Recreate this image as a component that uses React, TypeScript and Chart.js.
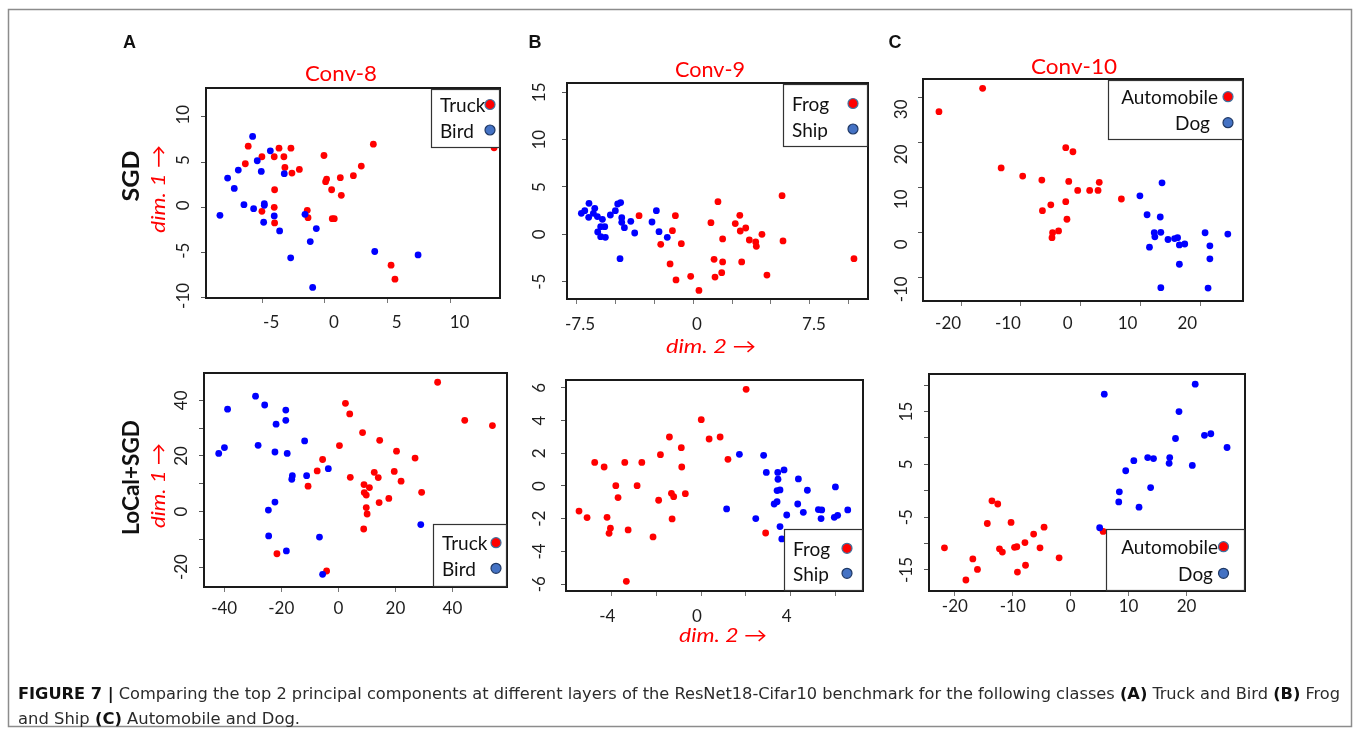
import React, { useEffect, useRef } from "react";
import { Chart, registerables } from "chart.js";

Chart.register(...registerables);

type Pt = [number, number];

// ---------------- data ----------------
const layerTitles = ["Conv-8", "Conv-9", "Conv-10"];
const optimizerRows = ["SGD", "LoCal+SGD"];
const panelLetters = ["A", "B", "C"];
const pairA = ["Truck", "Bird"];
const pairB = ["Frog", "Ship"];
const pairC = ["Automobile", "Dog"];

const sgdTruck: Pt[] = [[-6.11, 6.75], [-6.34, 4.81], [-5.02, 5.58], [-4.04, 5.58], [-3.66, 6.53], [-2.71, 6.53], [-3.27, 5.58], [-3.19, 4.4], [-2.63, 3.78], [-2.04, 4.18], [-4.01, 1.94], [-4.04, 0], [-5.02, -0.44], [-4.01, -1.72], [-1.41, -0.33], [-1.35, -1.14], [-0.08, 5.72], [0.13, 3.12], [0.05, 2.83], [0.53, 1.94], [1.22, 3.27], [1.3, 1.32], [0.58, -1.25], [0.74, -1.25], [2.26, 3.49], [2.89, 4.55], [3.85, 6.97], [5.26, -6.39], [5.57, -7.93], [13.46, 6.57]];
const sgdBird: Pt[] = [[-5.76, 7.82], [-4.35, 6.24], [-5.39, 5.14], [-6.9, 4.11], [-7.75, 3.23], [-5.07, 3.96], [-3.24, 3.71], [-7.22, 2.09], [-6.45, 0.29], [-5.68, -0.15], [-4.83, 0.4], [-4.83, 0.22], [-8.36, -0.88], [-4.88, -1.65], [-4.04, -0.95], [-3.61, -2.61], [-1.59, -0.77], [-0.69, -2.35], [-1.17, -3.78], [-2.73, -5.58], [-0.98, -8.84], [3.96, -4.88], [7.41, -5.25]];

const sgdFrog: Pt[] = [[-3.46, 1.97], [-2.07, -1.06], [-1.32, 0.39], [-1.13, 1.97], [-1.47, -3.13], [-0.75, -0.99], [-1.09, -4.82], [-0.15, -4.44], [0.38, -5.92], [1.15, 1.23], [1.6, 3.45], [1.9, -0.49], [1.35, -2.64], [1.41, -4.51], [1.9, -2.92], [1.84, -4.05], [2.71, 1.13], [3.0, 2.01], [3.03, 0.35], [3.12, -2.92], [3.38, 0.67], [3.61, -0.6], [4.02, -0.81], [4.06, -1.27], [4.42, 0], [4.74, -4.3], [5.71, 4.08], [5.77, -0.7], [10.32, -2.57]];
const sgdShip: Pt[] = [[-7.16, 2.22], [-6.94, 2.5], [-6.67, 3.27], [-6.69, 1.8], [-6.3, 2.75], [-6.39, 2.22], [-6.13, 1.87], [-5.81, 1.58], [-6.11, 0.25], [-5.92, 0.81], [-5.66, 0.81], [-5.92, -0.25], [-5.62, -0.32], [-5.3, 2.04], [-4.98, 2.5], [-4.83, 3.2], [-4.64, 3.35], [-4.57, 1.76], [-4.57, 1.27], [-4.4, 0.7], [-3.99, 1.37], [-3.74, 0.14], [-4.68, -2.57], [-2.63, 1.3], [-2.35, 2.5], [-2.18, 0.28], [-1.65, -0.32]];

const sgdAutomobile: Pt[] = [[-23.7, 26.8], [-16.4, 32.0], [-13.3, 14.3], [-9.7, 12.5], [-6.5, 11.6], [-2.5, 18.8], [-1.3, 17.9], [-2.0, 11.3], [-0.5, 9.3], [1.5, 9.3], [2.9, 9.3], [3.1, 11.1], [6.8, 7.4], [-5.0, 6.1], [-6.4, 4.8], [-2.5, 6.8], [-2.3, 2.9], [-3.7, 0.3], [-4.7, -0.1], [-4.8, -1.2]];
const sgdDog: Pt[] = [[9.9, 8.1], [13.6, 11.0], [11.1, 3.9], [13.3, 3.4], [12.3, -0.1], [12.4, -1.0], [13.4, 0], [11.5, -3.3], [14.6, -1.6], [15.7, -1.4], [16.2, -1.2], [16.5, -2.8], [17.4, -2.6], [16.5, -7.1], [13.4, -12.3], [20.8, -0.1], [21.6, -3.0], [21.6, -5.9], [21.3, -12.4], [24.6, -0.4]];

const localTruck: Pt[] = [[-21.5, -15.2], [-4.1, -21.4], [-10.6, 9.1], [-7.4, 14.6], [-5.5, 18.7], [0.4, 23.7], [2.5, 38.9], [4.0, 35.1], [4.2, 12.3], [8.5, 28.4], [14.5, 25.6], [12.6, 14.1], [14.0, 12.2], [9.0, 9.7], [10.9, 8.6], [9.1, 6.8], [9.8, 5.9], [9.8, 1.4], [10.1, -0.9], [8.9, -6.3], [14.3, 3.2], [17.7, 4.7], [19.6, 14.4], [20.4, 21.7], [22.0, 10.9], [26.9, 19.2], [29.2, 6.9], [34.8, 46.5], [44.3, 32.8], [54.0, 30.9]];
const localBird: Pt[] = [[-41.9, 20.9], [-39.9, 23.0], [-38.8, 36.8], [-29.0, 41.5], [-28.1, 23.8], [-25.8, 38.3], [-21.8, 31.4], [-22.2, 21.4], [-18.4, 36.5], [-18.4, 32.8], [-17.9, 20.9], [-11.8, 25.4], [-16.1, 12.9], [-16.3, 11.6], [-11.1, 12.9], [-3.5, 15.4], [-22.2, 3.4], [-24.5, 0.5], [-24.4, -8.8], [-18.2, -14.2], [-6.6, -9.2], [-5.5, -22.6], [28.9, -4.7]];

const localFrog: Pt[] = [[-5.44, -1.53], [-5.08, -1.93], [-4.74, 1.44], [-4.32, 1.16], [-4.19, -1.91], [-4.04, -2.58], [-4.1, -2.89], [-3.8, 0.02], [-3.7, -0.71], [-3.4, 1.44], [-3.25, -2.68], [-3.33, -5.82], [-2.85, 0.02], [-2.64, 1.44], [-2.14, -3.11], [-1.89, -0.87], [-1.81, 1.91], [-1.41, 2.99], [-1.32, -0.45], [-1.22, -0.65], [-1.29, -2.01], [-0.88, 2.34], [-0.86, 1.16], [-0.7, -0.47], [0.01, 4.05], [0.36, 2.87], [0.85, 2.99], [1.2, 1.63], [2.01, 5.9], [2.88, -2.87]];
const localShip: Pt[] = [[1.14, -1.4], [1.71, 1.93], [2.44, -1.99], [2.79, 1.87], [2.91, 0.83], [3.42, 0.83], [3.43, 0.41], [3.7, 0.98], [3.39, -0.28], [3.52, -0.24], [3.26, -1.1], [3.39, -0.96], [3.52, -2.48], [3.6, -3.23], [3.82, -1.77], [4.34, 0.43], [4.31, -1.1], [4.56, -1.61], [4.74, -0.26], [5.23, -1.44], [5.38, -1.46], [5.35, -1.99], [5.99, -0.06], [5.94, -1.91], [6.09, -1.79], [6.54, -1.46]];

const localAutomobile: Pt[] = [[-21.8, -10.8], [-18.1, -16.9], [-16.9, -12.9], [-16.1, -14.9], [-14.4, -6.2], [-13.6, -1.9], [-12.6, -2.5], [-12.3, -11.0], [-11.8, -11.6], [-10.3, -6.0], [-9.7, -10.7], [-9.3, -10.6], [-9.2, -15.4], [-7.9, -9.8], [-7.8, -14.1], [-6.4, -8.2], [-5.3, -10.8], [-4.6, -6.9], [-2.0, -12.7], [5.6, -7.7]];
const localDog: Pt[] = [[5.0, -7.0], [5.8, 18.3], [8.3, -2.1], [8.4, -0.2], [9.5, 3.8], [10.9, 5.7], [11.8, -3.1], [13.3, 6.3], [13.8, 0.6], [14.3, 6.1], [17.0, 5.2], [17.1, 6.3], [18.1, 9.9], [18.7, 15.0], [21.0, 4.8], [21.5, 20.2], [23.1, 10.5], [24.2, 10.8], [27.0, 8.2]];

// tick values and labelled ticks
const aTopXTicks = [-5, 0, 5, 10];
const aTopYTicks = [-10, -5, 0, 5, 10];
const bTopXTicks = [-7.5, -5, -2.5, 0, 2.5, 5, 7.5, 10];
const bTopXLabels = [-7.5, 0, 7.5];
const bTopYTicks = [-5, 0, 5, 10, 15];
const cTopXTicks = [-20, -10, 0, 10, 20];
const cTopYTicks = [-10, 0, 10, 20, 30];
const aBotXTicks = [-40, -20, 0, 20, 40];
const aBotYTicks = [-20, -10, 0, 10, 20, 30, 40];
const aBotYLabels = [-20, 0, 20, 40];
const bBotXTicks = [-4, -2, 0, 2, 4, 6];
const bBotXLabels = [-4, 0, 4];
const bBotYTicks = [-6, -4, -2, 0, 2, 4, 6];
const cBotXTicks = [-20, -10, 0, 10, 20];
const cBotYTicks = [-15, -10, -5, 0, 5, 10, 15, 20];
const cBotYLabels = [-15, -5, 5, 15];

// ---------------- layout / style ----------------
const RED = "#ff0000";
const BLUE = "#0000ff";
const TICK_FONT = "Lato";
const TICK_SIZE = 17;
const TICK_LEN = 5;
const ML = 70, MT = 30, MR = 12, MB = 50;

interface PanelCfg {
  box: [number, number, number, number];
  x: [number, number];
  y: [number, number];
  xTicks: number[]; xLabels: number[];
  yTicks: number[]; yLabels: number[];
  xOff: number; yOff: number; xGap: number; yGap: number;
  red: Pt[]; blue: Pt[];
}

const panels: PanelCfg[] = [
  { box: [206, 88, 500, 298], x: [-9.47, 13.93], y: [-10.01, 13.17], xTicks: aTopXTicks, xLabels: aTopXTicks, yTicks: aTopYTicks, yLabels: aTopYTicks, xOff: 9, yOff: -2, xGap: 25, yGap: 22, red: sgdTruck, blue: sgdBird },
  { box: [567, 83, 868, 299], x: [-8.08, 11.22], y: [-6.83, 15.98], xTicks: bTopXTicks, xLabels: bTopXLabels, yTicks: bTopYTicks, yLabels: bTopYTicks, xOff: 4, yOff: 0, xGap: 26, yGap: 27, red: sgdFrog, blue: sgdShip },
  { box: [923, 79, 1243, 301], x: [-26.37, 27.14], y: [-15.27, 34.07], xTicks: cTopXTicks, xLabels: cTopXTicks, yTicks: cTopYTicks, yLabels: cTopYTicks, xOff: -13, yOff: 12, xGap: 22.6, yGap: 21, red: sgdAutomobile, blue: sgdDog },
  { box: [204, 373, 507, 587], x: [-47.06, 59.11], y: [-27.16, 49.82], xTicks: aBotXTicks, xLabels: aBotXTicks, yTicks: aBotYTicks, yLabels: aBotYLabels, xOff: 0, yOff: 0, xGap: 21.6, yGap: 22.6, red: localTruck, blue: localBird },
  { box: [566, 380, 863, 591], x: [-6.02, 7.22], y: [-6.41, 6.47], xTicks: bBotXTicks, xLabels: bBotXLabels, yTicks: bBotYTicks, yLabels: bBotYTicks, xOff: -4, yOff: 0, xGap: 26, yGap: 26, red: localFrog, blue: localShip },
  { box: [929, 374, 1245, 591], x: [-24.47, 30.1], y: [-18.98, 22.12], xTicks: cBotXTicks, xLabels: cBotXTicks, yTicks: cBotYTicks, yLabels: cBotYLabels, xOff: 0, yOff: 0, xGap: 14, yGap: 22.6, red: localAutomobile, blue: localDog },
];

const framePlugin = {
  id: "plotFrame",
  afterDraw(chart: any) {
    const { ctx, chartArea: a } = chart;
    ctx.save();
    ctx.strokeStyle = "#1a1a1a";
    ctx.lineWidth = 2;
    ctx.strokeRect(a.left, a.top, a.right - a.left, a.bottom - a.top);
    ctx.restore();
  },
};

function ScatterPanel({ cfg }: { cfg: PanelCfg }) {
  const ref = useRef<HTMLCanvasElement>(null);
  const [L, T, R, B] = cfg.box;
  const w = R - L;
  const h = B - T;
  useEffect(() => {
    const canvas = ref.current!;
    const mctx = canvas.getContext("2d")!;
    mctx.font = `${TICK_SIZE}px ${TICK_FONT}`;
    const widest = Math.max(...cfg.yLabels.map((v) => mctx.measureText(String(v)).width));
    const yPad = cfg.yGap - TICK_LEN - widest / 2;
    const xPad = Math.max(0, cfg.xGap - TICK_LEN - (TICK_SIZE * 1.2) / 2);
    const tickFont = { family: TICK_FONT, size: TICK_SIZE };
    const chart = new Chart(canvas, {
      type: "scatter",
      data: {
        datasets: [
          { data: cfg.blue.map(([x, y]) => ({ x, y })), backgroundColor: BLUE, borderWidth: 0, pointRadius: 3.4 },
          { data: cfg.red.map(([x, y]) => ({ x, y })), backgroundColor: RED, borderWidth: 0, pointRadius: 3.4 },
        ],
      },
      options: {
        responsive: false,
        animation: false,
        devicePixelRatio: 1,
        events: [],
        layout: { padding: { left: 0, top: MT, right: MR, bottom: 0 } },
        plugins: { legend: { display: false }, tooltip: { enabled: false }, title: { display: false } },
        scales: {
          x: {
            type: "linear",
            position: "bottom",
            min: cfg.x[0],
            max: cfg.x[1],
            afterBuildTicks: (s: any) => { s.ticks = cfg.xTicks.map((v) => ({ value: v })); },
            afterFit: (s: any) => { s.height = MB; },
            grid: { display: true, drawOnChartArea: false, drawTicks: true, tickLength: TICK_LEN, color: "#777", lineWidth: 1 },
            border: { display: false },
            ticks: {
              autoSkip: false, maxRotation: 0, minRotation: 0, padding: xPad, labelOffset: cfg.xOff,
              font: tickFont, color: "#1e1e1e",
              callback: (v: any) => (cfg.xLabels.includes(Number(v)) ? String(v) : ""),
            },
          },
          y: {
            type: "linear",
            position: "left",
            min: cfg.y[0],
            max: cfg.y[1],
            afterBuildTicks: (s: any) => { s.ticks = cfg.yTicks.map((v) => ({ value: v })); },
            afterFit: (s: any) => { s.width = ML; },
            grid: { display: true, drawOnChartArea: false, drawTicks: true, tickLength: TICK_LEN, color: "#555", lineWidth: 1 },
            border: { display: false },
            ticks: {
              autoSkip: false, minRotation: 90, maxRotation: 90, crossAlign: "center", padding: yPad, labelOffset: cfg.yOff,
              font: tickFont, color: "#1e1e1e",
              callback: (v: any) => (cfg.yLabels.includes(Number(v)) ? String(v) : ""),
            },
          },
        },
      } as any,
      plugins: [framePlugin],
    });
    return () => chart.destroy();
  }, []);
  return (
    <canvas
      ref={ref}
      width={w + ML + MR}
      height={h + MT + MB}
      style={{ position: "absolute", left: L - ML, top: T - MT }}
    />
  );
}

interface LegendRow { text: string; tx: number; anchor: "start" | "end"; ty: number; mx: number; fill: string; stroke: string; }
interface LegendCfg { rect: [number, number, number, number]; rows: LegendRow[]; }

const MK_RED = { fill: "#ff0000", stroke: "#41719c" };
const MK_BLUE = { fill: "#4472c4", stroke: "#1f3864" };

const legends: LegendCfg[] = [
  { rect: [431, 89, 499, 147], rows: [
    { text: pairA[0], tx: 440, anchor: "start", ty: 104.5, mx: 490, ...MK_RED },
    { text: pairA[1], tx: 440, anchor: "start", ty: 130, mx: 490, ...MK_BLUE } ] },
  { rect: [783, 84, 867, 146], rows: [
    { text: pairB[0], tx: 792, anchor: "start", ty: 103.5, mx: 853, ...MK_RED },
    { text: pairB[1], tx: 792, anchor: "start", ty: 129, mx: 853, ...MK_BLUE } ] },
  { rect: [1108, 80, 1242, 139], rows: [
    { text: pairC[0], tx: 1218, anchor: "end", ty: 96.7, mx: 1228, ...MK_RED },
    { text: pairC[1], tx: 1210, anchor: "end", ty: 122.7, mx: 1228, ...MK_BLUE } ] },
  { rect: [433, 524, 506, 586], rows: [
    { text: pairA[0], tx: 442, anchor: "start", ty: 542.7, mx: 496, ...MK_RED },
    { text: pairA[1], tx: 442, anchor: "start", ty: 568.3, mx: 496, ...MK_BLUE } ] },
  { rect: [784, 529, 862, 590], rows: [
    { text: pairB[0], tx: 793, anchor: "start", ty: 548.3, mx: 847, ...MK_RED },
    { text: pairB[1], tx: 793, anchor: "start", ty: 573.3, mx: 847, ...MK_BLUE } ] },
  { rect: [1106, 529, 1244, 590], rows: [
    { text: pairC[0], tx: 1218, anchor: "end", ty: 546.7, mx: 1223.5, ...MK_RED },
    { text: pairC[1], tx: 1213, anchor: "end", ty: 573.3, mx: 1223.5, ...MK_BLUE } ] },
];

const SANS = "Lato, 'Open Sans', sans-serif";

function Rotated({ cx, cy, text, len, size, bold, italic, color }: any) {
  return (
    <text
      x={cx} y={cy} textAnchor="middle" dominantBaseline="central"
      transform={`rotate(-90 ${cx} ${cy})`}
      fontFamily={SANS} fontSize={size} fontWeight={bold ? "bold" : "normal"}
      fontStyle={italic ? "italic" : "normal"} fill={color}
      textLength={len} lengthAdjust="spacingAndGlyphs"
    >{text}</text>
  );
}

function Overlay() {
  const titleCfg = [
    { cx: 341, by: 81, len: 72 },
    { cx: 710, by: 77, len: 70 },
    { cx: 1074, by: 74, len: 86 },
  ];
  const letterX = [129.5, 535, 895];
  return (
    <svg width={1360} height={737} style={{ position: "absolute", left: 0, top: 0, pointerEvents: "none" }}>
      <rect x={8.5} y={9.5} width={1343} height={717} fill="none" stroke="#8c8c8c" strokeWidth={1.5} />
      {panelLetters.map((l, i) => (
        <text key={l} x={letterX[i]} y={48} textAnchor="middle" fontFamily="'Liberation Sans', Arial, sans-serif" fontWeight="bold" fontSize={18} fill="#111">{l}</text>
      ))}
      {layerTitles.map((t, i) => (
        <text key={t} x={titleCfg[i].cx} y={titleCfg[i].by} textAnchor="middle" fontFamily={SANS} fontSize={22} fill={RED} textLength={titleCfg[i].len} lengthAdjust="spacingAndGlyphs">{t}</text>
      ))}
      <Rotated cx={130} cy={176} text={optimizerRows[0]} len={51} size={23} bold color="#111" />
      <Rotated cx={130} cy={477.5} text={optimizerRows[1]} len={115} size={23} bold color="#111" />
      <Rotated cx={157} cy={189} text={"dim. 1 \u2192"} len={88} size={20} italic color={RED} />
      <Rotated cx={157} cy={485.5} text={"dim. 1 \u2192"} len={85} size={20} italic color={RED} />
      <text x={711} y={345} textAnchor="middle" dominantBaseline="central" fontFamily={SANS} fontSize={20} fontStyle="italic" fill={RED} textLength={90} lengthAdjust="spacingAndGlyphs">{"dim. 2 \u2192"}</text>
      <text x={723} y={634} textAnchor="middle" dominantBaseline="central" fontFamily={SANS} fontSize={20} fontStyle="italic" fill={RED} textLength={88} lengthAdjust="spacingAndGlyphs">{"dim. 2 \u2192"}</text>
      {legends.map((lg, i) => {
        const [x1, y1, x2, y2] = lg.rect;
        return (
          <g key={i}>
            <rect x={x1 + 0.5} y={y1 + 0.5} width={x2 - x1} height={y2 - y1} fill="#fff" stroke="#333" strokeWidth={1.2} />
            {lg.rows.map((r, j) => (
              <g key={j}>
                <text x={r.tx} y={r.ty} textAnchor={r.anchor} dominantBaseline="central" fontFamily={SANS} fontSize={19} fill="#111">{r.text}</text>
                <circle cx={r.mx} cy={r.ty} r={5} fill={r.fill} stroke={r.stroke} strokeWidth={1.2} />
              </g>
            ))}
          </g>
        );
      })}
      <text x={18} y={699} fontFamily="'Liberation Sans Narrow', 'DejaVu Sans Condensed', 'Liberation Sans', sans-serif" fontSize={16} fill="#2b2b2b" textLength={1322} lengthAdjust="spacingAndGlyphs">
        <tspan fontWeight="bold" fill="#111">FIGURE 7 |</tspan>
        <tspan> Comparing the top 2 principal components at different layers of the ResNet18-Cifar10 benchmark for the following classes </tspan>
        <tspan fontWeight="bold" fill="#111">(A)</tspan>
        <tspan> Truck and Bird </tspan>
        <tspan fontWeight="bold" fill="#111">(B)</tspan>
        <tspan> Frog</tspan>
      </text>
      <text x={18} y={724} fontFamily="'Liberation Sans Narrow', 'DejaVu Sans Condensed', 'Liberation Sans', sans-serif" fontSize={16} fill="#2b2b2b" textLength={282} lengthAdjust="spacingAndGlyphs">
        <tspan>and Ship </tspan>
        <tspan fontWeight="bold" fill="#111">(C)</tspan>
        <tspan> Automobile and Dog.</tspan>
      </text>
    </svg>
  );
}

export default function App() {
  return (
    <div style={{ position: "absolute", left: 0, top: 0, width: 1360, height: 737, background: "#fff", overflow: "hidden" }}>
      {panels.map((p, i) => (
        <ScatterPanel key={i} cfg={p} />
      ))}
      <Overlay />
    </div>
  );
}
